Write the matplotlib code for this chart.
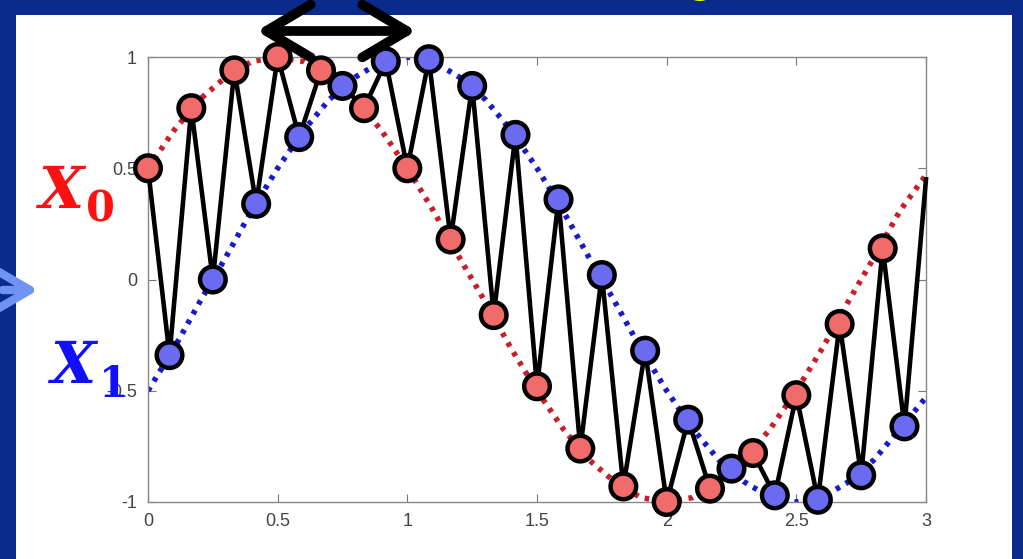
import matplotlib
matplotlib.use('Agg')
import matplotlib.pyplot as plt
from matplotlib.patches import Rectangle, FancyArrowPatch

# zigzag samples, alternating X0 (red) and X1 (blue)
sample_x = [0, 0.083, 0.167, 0.25, 0.333, 0.417, 0.5, 0.583, 0.667, 0.75, 0.833, 0.917,
            1.0, 1.083, 1.167, 1.25, 1.333, 1.417, 1.5, 1.583, 1.667, 1.75, 1.833, 1.917,
            2.0, 2.083, 2.167, 2.25, 2.333, 2.417, 2.5, 2.583, 2.667, 2.75, 2.833, 2.917, 3.0]
sample_y = [0.5, -0.34, 0.77, 0.0, 0.94, 0.34, 1.0, 0.64, 0.94, 0.87, 0.77, 0.98,
            0.5, 0.99, 0.18, 0.87, -0.16, 0.65, -0.48, 0.36, -0.76, 0.02, -0.93, -0.32,
            -1.0, -0.63, -0.94, -0.85, -0.78, -0.97, -0.52, -0.99, -0.2, -0.88, 0.14, -0.66, 0.45]

# dotted reference curves
curve_x = [0, 0.1, 0.2, 0.3, 0.4, 0.5, 0.6, 0.7, 0.8, 0.9, 1.0, 1.1, 1.2, 1.3, 1.4, 1.5,
           1.6, 1.7, 1.8, 1.9, 2.0, 2.1, 2.2, 2.3, 2.4, 2.5, 2.6, 2.7, 2.8, 2.9, 3.0]
red_curve = [0.5, 0.67, 0.81, 0.91, 0.98, 1.0, 0.98, 0.91, 0.81, 0.67, 0.5, 0.31, 0.1, -0.1,
             -0.31, -0.5, -0.67, -0.81, -0.91, -0.98, -1.0, -0.98, -0.91, -0.81, -0.67,
             -0.5, -0.31, -0.1, 0.1, 0.31, 0.47]
blue_curve = [-0.5, -0.31, -0.1, 0.1, 0.31, 0.5, 0.67, 0.81, 0.91, 0.98, 1.0, 0.98, 0.91,
              0.81, 0.67, 0.5, 0.31, 0.1, -0.1, -0.31, -0.5, -0.67, -0.81, -0.91, -0.98,
              -1.0, -0.98, -0.91, -0.81, -0.67, -0.53]

x_ticks = [0, 0.5, 1, 1.5, 2, 2.5, 3]
x_labels = ['0', '0.5', '1', '1.5', '2', '2.5', '3']
y_ticks = [-1, -0.5, 0, 0.5, 1]
y_labels = ['-1', '-0.5', '0', '0.5', '1']

navy = '#0a2a8c'
red_fill = '#f26b6b'
blue_fill = '#6b6bf2'

fig = plt.figure(figsize=(10.23, 5.59), dpi=100, facecolor=navy)
W, H = 1023, 559
fig.patches.append(Rectangle((16 / W, 0), (1012 - 16) / W, (H - 15) / H,
                             transform=fig.transFigure, facecolor='white',
                             edgecolor='none', zorder=-10))

# yellow title remnant at top
fig.text(700 / W, 1 + 9 / H, 'g', color='#ffff00', fontsize=34, fontweight='bold',
         ha='center', va='baseline', family='Liberation Sans')

ax = fig.add_axes([148 / W, 1 - 502 / H, (926 - 148) / W, (502 - 57) / H])
ax.set_facecolor('white')

ax.plot(curve_x, red_curve, linestyle=(0, (0.8, 1.2)), color='#c81e2a', lw=4, zorder=2)
ax.plot(curve_x, blue_curve, linestyle=(0, (0.8, 1.2)), color='#1a1ac8', lw=4, zorder=2)
ax.plot(sample_x, sample_y, color='black', lw=3.3, zorder=3, clip_on=False)

fills = [red_fill if i % 2 == 0 else blue_fill for i in range(len(sample_x) - 1)]
ax.scatter(sample_x[:-1], sample_y[:-1], s=340, c=fills, edgecolors='black',
           linewidths=3.2, zorder=4, clip_on=False)

ax.set_xlim(0, 3)
ax.set_ylim(-1, 1)
ax.set_xticks(x_ticks)
ax.set_xticklabels(x_labels)
ax.set_yticks(y_ticks)
ax.set_yticklabels(y_labels)
ax.tick_params(direction='in', top=True, right=True, length=6, width=0.8,
               colors='#777777', labelcolor='#444444', labelsize=13, pad=8)
for lab in ax.get_xticklabels() + ax.get_yticklabels():
    lab.set_family(['Liberation Sans Narrow', 'Liberation Sans', 'DejaVu Sans'])
for sp in ax.spines.values():
    sp.set_color('#888888')
    sp.set_linewidth(1.0)

# X0 / X1 labels
fig.text(38 / W, 1 - 208 / H, 'X', color='#ff1010', fontsize=42, fontweight='bold',
         style='italic', family='DejaVu Serif', ha='left', va='baseline')
fig.text(86 / W, 1 - 222 / H, '0', color='#ff1010', fontsize=30, fontweight='bold',
         family='DejaVu Serif', ha='left', va='baseline')
fig.text(50 / W, 1 - 383 / H, 'X', color='#1010ff', fontsize=42, fontweight='bold',
         style='italic', family='DejaVu Serif', ha='left', va='baseline')
fig.text(99 / W, 1 - 397 / H, '1', color='#1010ff', fontsize=30, fontweight='bold',
         family='DejaVu Serif', ha='left', va='baseline')

# light blue arrow on the left
fig.patches.append(FancyArrowPatch(
    (0 / W, 1 - 290 / H), (41 / W, 1 - 290 / H), transform=fig.transFigure,
    arrowstyle='->,head_length=1.2,head_width=0.7', mutation_scale=20,
    color='#6e93f5', lw=6, zorder=5, capstyle='round', joinstyle='round'))

# black double arrow above the axes
fig.patches.append(FancyArrowPatch(
    (254 / W, 1 - 31 / H), (419 / W, 1 - 31 / H), transform=fig.transFigure,
    arrowstyle='<->,head_length=1.6,head_width=0.95', mutation_scale=20,
    color='black', lw=7, zorder=6, capstyle='round', joinstyle='round'))

plt.savefig('out.png', dpi=100, facecolor=navy)
plt.close()
